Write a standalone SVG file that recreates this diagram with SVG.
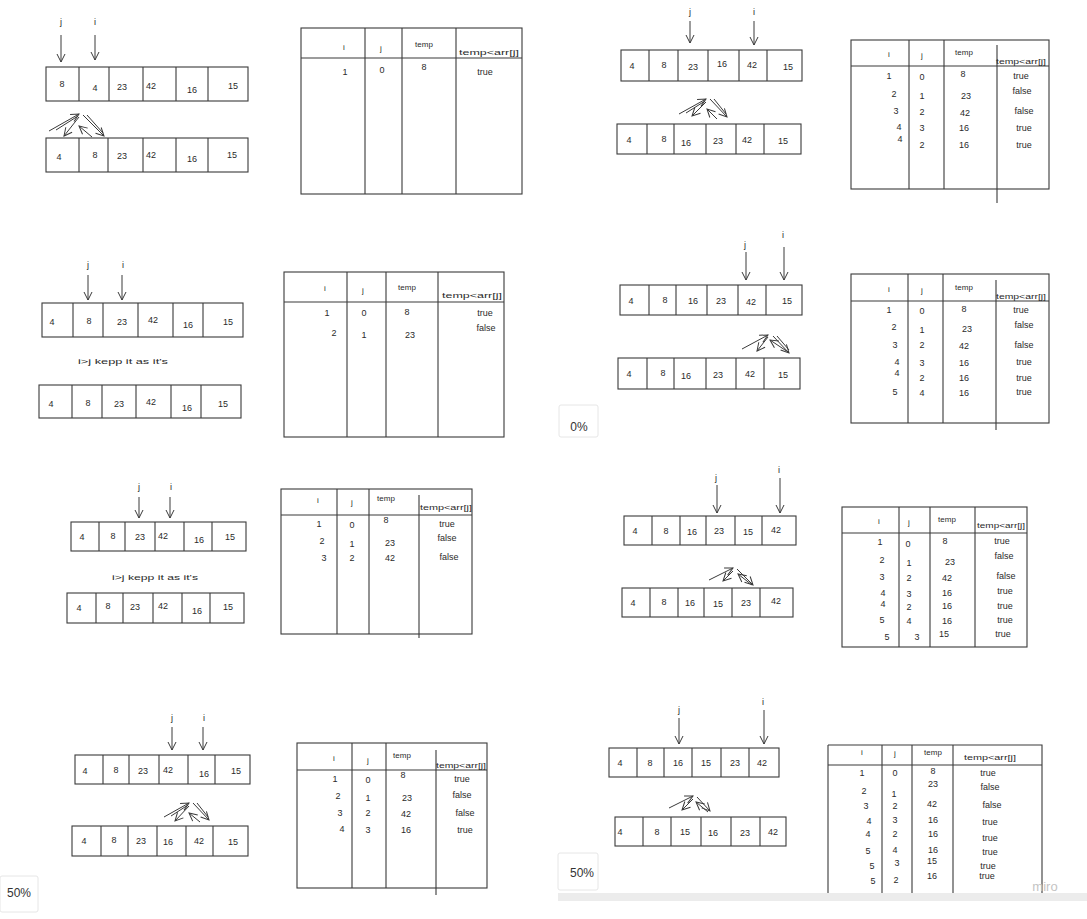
<svg xmlns="http://www.w3.org/2000/svg" width="1087" height="919" viewBox="0 0 1087 919">
<style>
.ln{stroke:#3a3a3a;stroke-width:1.1;fill:none}
.ar{stroke:#3a3a3a;stroke-width:1;fill:none;marker-end:url(#ah)}
.sl{stroke:#3a3a3a;stroke-width:1;fill:none}
.t{font-family:"Liberation Sans",Arial,sans-serif;font-size:9px;fill:#2a2a2a;text-anchor:middle}
.h{font-family:"Liberation Sans",Arial,sans-serif;font-size:8px;fill:#2a2a2a;text-anchor:middle}
.n{font-family:"Liberation Sans",Arial,sans-serif;font-size:8px;fill:#2a2a2a;text-anchor:middle}
.z{font-family:"Liberation Sans",Arial,sans-serif;font-size:12px;fill:#333;text-anchor:middle}
.box{fill:#fff;stroke:#e6e6e6;stroke-width:1}
</style>
<defs>
<marker id="ah" markerUnits="userSpaceOnUse" markerWidth="10" markerHeight="10" refX="9" refY="5" orient="auto">
<path d="M1,1 L9,5 L1,9" fill="none" stroke="#3a3a3a" stroke-width="1"/>
</marker>
</defs>
<rect x="0" y="0" width="1087" height="919" fill="#fff"/>

<!-- Panel 1 -->
<g id="p1-top">
<rect class="ln" x="46" y="67" width="202" height="34"/>
<path class="ln" d="M79,67V101M109,67V101M143,67V101M176,67V101M208,67V101"/>
<text class="t" x="62" y="87">8</text><text class="t" x="95" y="91">4</text><text class="t" x="122" y="90">23</text><text class="t" x="151" y="89">42</text><text class="t" x="192" y="93">16</text><text class="t" x="233" y="89">15</text>
</g>
<g id="p1-bottom">
<rect class="ln" x="46" y="138" width="202" height="34"/>
<path class="ln" d="M79,138V172M108,138V172M143,138V172M176,138V172M208,138V172"/>
<text class="t" x="59" y="160">4</text><text class="t" x="95" y="158">8</text><text class="t" x="122" y="159">23</text><text class="t" x="151" y="158">42</text><text class="t" x="192" y="162">16</text><text class="t" x="232" y="158">15</text>
</g>
<g id="p1-labels"><text class="t" x="61" y="25">j</text><text class="t" x="95" y="25">i</text></g>
<g id="t1">
<rect class="ln" x="301" y="28" width="221" height="166"/>
<path class="ln" d="M301,58H522M365,28V194M402,28V194M456,28V194"/>
<text class="h" x="344" y="50">i</text><text class="h" x="381" y="51">j</text><text class="h" x="424" y="47">temp</text><text class="h" x="489" y="55" textLength="60" lengthAdjust="spacingAndGlyphs">temp&lt;arr[j]</text>
<text class="t" x="345" y="75">1</text><text class="t" x="382" y="73">0</text><text class="t" x="424" y="70">8</text><text class="t" x="485" y="75">true</text>
</g>

<!-- Panel 2 -->
<g id="p2-top">
<rect class="ln" x="42" y="303" width="201" height="34"/>
<path class="ln" d="M73,303V337M103,303V337M138,303V337M173,303V337M203,303V337"/>
<text class="t" x="52" y="325">4</text><text class="t" x="89" y="324">8</text><text class="t" x="122" y="325">23</text><text class="t" x="153" y="323">42</text><text class="t" x="188" y="328">16</text><text class="t" x="228" y="325">15</text>
</g>
<g id="p2-note"><text class="n" x="123" y="364" textLength="90" lengthAdjust="spacingAndGlyphs">i&gt;j kepp it as it's</text></g>
<g id="p2-bottom">
<rect class="ln" x="39" y="385" width="202" height="33"/>
<path class="ln" d="M72,385V418M102,385V418M136,385V418M171,385V418M201,385V418"/>
<text class="t" x="51" y="407">4</text><text class="t" x="88" y="406">8</text><text class="t" x="119" y="407">23</text><text class="t" x="151" y="405">42</text><text class="t" x="187" y="411">16</text><text class="t" x="223" y="407">15</text>
</g>
<g id="p2-labels"><text class="t" x="88" y="268">j</text><text class="t" x="123" y="268">i</text></g>
<g id="t2">
<rect class="ln" x="284" y="272" width="220" height="165"/>
<path class="ln" d="M284,302H504M347,272V437M386,272V437M438,272V437"/>
<text class="h" x="325" y="291">i</text><text class="h" x="363" y="293">j</text><text class="h" x="407" y="290">temp</text><text class="h" x="472" y="298" textLength="60" lengthAdjust="spacingAndGlyphs">temp&lt;arr[j]</text>
<text class="t" x="327" y="316">1</text><text class="t" x="364" y="316">0</text><text class="t" x="407" y="315">8</text><text class="t" x="485" y="316">true</text>
<text class="t" x="334" y="336">2</text><text class="t" x="364" y="338">1</text><text class="t" x="410" y="338">23</text><text class="t" x="486" y="331">false</text>
</g>

<!-- Panel 3 -->
<g id="p3-top">
<rect class="ln" x="71" y="522" width="175" height="29"/>
<path class="ln" d="M99,522V551M125,522V551M155,522V551M184,522V551M212,522V551"/>
<text class="t" x="82" y="540">4</text><text class="t" x="113" y="539">8</text><text class="t" x="140" y="540">23</text><text class="t" x="163" y="539">42</text><text class="t" x="199" y="543">16</text><text class="t" x="230" y="540">15</text>
</g>
<g id="p3-note"><text class="n" x="155" y="580" textLength="86" lengthAdjust="spacingAndGlyphs">i&gt;j kepp it as it's</text></g>
<g id="p3-bottom">
<rect class="ln" x="67" y="593" width="177" height="30"/>
<path class="ln" d="M96,593V623M123,593V623M153,593V623M182,593V623M210,593V623"/>
<text class="t" x="79" y="611">4</text><text class="t" x="108" y="609">8</text><text class="t" x="135" y="610">23</text><text class="t" x="163" y="609">42</text><text class="t" x="197" y="614">16</text><text class="t" x="228" y="610">15</text>
</g>
<g id="p3-labels"><text class="t" x="139" y="490">j</text><text class="t" x="171" y="490">i</text></g>
<g id="t3">
<rect class="ln" x="281" y="489" width="191" height="145"/>
<path class="ln" d="M281,515H472M337,489V634M369,489V634M419,495V638"/>
<text class="h" x="318" y="503">i</text><text class="h" x="352" y="505">j</text><text class="h" x="386" y="501">temp</text><text class="h" x="446" y="510" textLength="52" lengthAdjust="spacingAndGlyphs">temp&lt;arr[j]</text>
<text class="t" x="319" y="527">1</text><text class="t" x="352" y="528">0</text><text class="t" x="386" y="523">8</text><text class="t" x="447" y="527">true</text>
<text class="t" x="322" y="544">2</text><text class="t" x="352" y="547">1</text><text class="t" x="390" y="546">23</text><text class="t" x="447" y="541">false</text>
<text class="t" x="324" y="561">3</text><text class="t" x="352" y="561">2</text><text class="t" x="390" y="561">42</text><text class="t" x="449" y="560">false</text>
</g>

<!-- Panel 4 -->
<g id="p4-top">
<rect class="ln" x="75" y="755" width="175" height="29"/>
<path class="ln" d="M103,755V784M129,755V784M159,755V784M188,755V784M215,755V784"/>
<text class="t" x="85" y="774">4</text><text class="t" x="116" y="773">8</text><text class="t" x="143" y="774">23</text><text class="t" x="168" y="773">42</text><text class="t" x="204" y="777">16</text><text class="t" x="236" y="774">15</text>
</g>
<g id="p4-bottom">
<rect class="ln" x="72" y="826" width="176" height="30"/>
<path class="ln" d="M101,826V856M128,826V856M157,826V856M186,826V856M213,826V856"/>
<text class="t" x="84" y="844">4</text><text class="t" x="114" y="843">8</text><text class="t" x="141" y="844">23</text><text class="t" x="168" y="845">16</text><text class="t" x="199" y="844">42</text><text class="t" x="233" y="845">15</text>
</g>
<g id="p4-labels"><text class="t" x="172" y="721">j</text><text class="t" x="204" y="721">i</text></g>
<g id="t4">
<rect class="ln" x="297" y="743" width="190" height="145"/>
<path class="ln" d="M297,770H487M352,743V888M386,743V888M436,750V895"/>
<text class="h" x="334" y="761">i</text><text class="h" x="368" y="763">j</text><text class="h" x="402" y="758">temp</text><text class="h" x="461" y="768" textLength="50" lengthAdjust="spacingAndGlyphs">temp&lt;arr[j]</text>
<text class="t" x="335" y="782">1</text><text class="t" x="368" y="783">0</text><text class="t" x="403" y="778">8</text><text class="t" x="462" y="782">true</text>
<text class="t" x="338" y="799">2</text><text class="t" x="368" y="801">1</text><text class="t" x="407" y="801">23</text><text class="t" x="462" y="798">false</text>
<text class="t" x="340" y="816">3</text><text class="t" x="368" y="816">2</text><text class="t" x="406" y="817">42</text><text class="t" x="465" y="816">false</text>
<text class="t" x="342" y="832">4</text><text class="t" x="368" y="833">3</text><text class="t" x="406" y="833">16</text><text class="t" x="465" y="833">true</text>
</g>

<!-- Panel 5 -->
<g id="p5-top">
<rect class="ln" x="621" y="50" width="181" height="31"/>
<path class="ln" d="M649,50V81M678,50V81M708,50V81M739,50V81M767,50V81"/>
<text class="t" x="632" y="69">4</text><text class="t" x="664" y="68">8</text><text class="t" x="693" y="70">23</text><text class="t" x="722" y="67">16</text><text class="t" x="752" y="68">42</text><text class="t" x="788" y="70">15</text>
</g>
<g id="p5-bottom">
<rect class="ln" x="617" y="124" width="184" height="30"/>
<path class="ln" d="M647,124V154M674,124V154M706,124V154M736,124V154M764,124V154"/>
<text class="t" x="629" y="143">4</text><text class="t" x="664" y="142">8</text><text class="t" x="686" y="146">16</text><text class="t" x="718" y="144">23</text><text class="t" x="747" y="143">42</text><text class="t" x="783" y="144">15</text>
</g>
<g id="p5-labels"><text class="t" x="690" y="15">j</text><text class="t" x="754" y="15">i</text></g>
<g id="t5">
<rect class="ln" x="851" y="40" width="198" height="149"/>
<path class="ln" d="M851,66H1049M909,40V189M944,40V189M997,45V203"/>
<text class="h" x="889" y="57">i</text><text class="h" x="922" y="58">j</text><text class="h" x="964" y="55">temp</text><text class="h" x="1021" y="64" textLength="50" lengthAdjust="spacingAndGlyphs">temp&lt;arr[j]</text>
<text class="t" x="889" y="79">1</text><text class="t" x="922" y="80">0</text><text class="t" x="963" y="77">8</text><text class="t" x="1021" y="79">true</text>
<text class="t" x="894" y="97">2</text><text class="t" x="922" y="99">1</text><text class="t" x="966" y="99">23</text><text class="t" x="1022" y="94">false</text>
<text class="t" x="896" y="114">3</text><text class="t" x="922" y="115">2</text><text class="t" x="965" y="116">42</text><text class="t" x="1024" y="114">false</text>
<text class="t" x="899" y="130">4</text><text class="t" x="922" y="131">3</text><text class="t" x="964" y="131">16</text><text class="t" x="1024" y="131">true</text>
<text class="t" x="900" y="142">4</text><text class="t" x="922" y="148">2</text><text class="t" x="964" y="148">16</text><text class="t" x="1024" y="148">true</text>
</g>

<!-- Panel 6 -->
<g id="p6-top">
<rect class="ln" x="620" y="285" width="182" height="30"/>
<path class="ln" d="M649,285V315M676,285V315M707,285V315M738,285V315M766,285V315"/>
<text class="t" x="631" y="304">4</text><text class="t" x="665" y="303">8</text><text class="t" x="693" y="304">16</text><text class="t" x="721" y="304">23</text><text class="t" x="751" y="305">42</text><text class="t" x="787" y="304">15</text>
</g>
<g id="p6-bottom">
<rect class="ln" x="618" y="358" width="182" height="31"/>
<path class="ln" d="M647,358V389M674,358V389M706,358V389M736,358V389M764,358V389"/>
<text class="t" x="629" y="377">4</text><text class="t" x="663" y="376">8</text><text class="t" x="686" y="379">16</text><text class="t" x="718" y="378">23</text><text class="t" x="750" y="377">42</text><text class="t" x="783" y="378">15</text>
</g>
<g id="p6-labels"><text class="t" x="745" y="248">j</text><text class="t" x="783" y="238">i</text></g>
<g id="t6">
<rect class="ln" x="851" y="274" width="198" height="149"/>
<path class="ln" d="M851,301H1049M908,274V423M943,274V423M996,280V430"/>
<text class="h" x="889" y="292">i</text><text class="h" x="922" y="293">j</text><text class="h" x="964" y="290">temp</text><text class="h" x="1021" y="299" textLength="50" lengthAdjust="spacingAndGlyphs">temp&lt;arr[j]</text>
<text class="t" x="889" y="313">1</text><text class="t" x="922" y="314">0</text><text class="t" x="964" y="312">8</text><text class="t" x="1021" y="313">true</text>
<text class="t" x="894" y="330">2</text><text class="t" x="922" y="333">1</text><text class="t" x="967" y="332">23</text><text class="t" x="1024" y="328">false</text>
<text class="t" x="895" y="348">3</text><text class="t" x="922" y="348">2</text><text class="t" x="964" y="349">42</text><text class="t" x="1024" y="348">false</text>
<text class="t" x="897" y="365">4</text><text class="t" x="922" y="366">3</text><text class="t" x="964" y="366">16</text><text class="t" x="1024" y="365">true</text>
<text class="t" x="897" y="376">4</text><text class="t" x="922" y="381">2</text><text class="t" x="964" y="381">16</text><text class="t" x="1024" y="381">true</text>
<text class="t" x="895" y="395">5</text><text class="t" x="922" y="396">4</text><text class="t" x="964" y="396">16</text><text class="t" x="1024" y="395">true</text>
</g>

<!-- Panel 7 -->
<g id="p7-top">
<rect class="ln" x="624" y="516" width="172" height="29"/>
<path class="ln" d="M652,516V545M680,516V545M706,516V545M735,516V545M762,516V545"/>
<text class="t" x="635" y="534">4</text><text class="t" x="666" y="534">8</text><text class="t" x="692" y="535">16</text><text class="t" x="719" y="534">23</text><text class="t" x="748" y="535">15</text><text class="t" x="776" y="533">42</text>
</g>
<g id="p7-bottom">
<rect class="ln" x="622" y="588" width="171" height="29"/>
<path class="ln" d="M650,588V617M678,588V617M704,588V617M732,588V617M760,588V617"/>
<text class="t" x="633" y="606">4</text><text class="t" x="664" y="605">8</text><text class="t" x="690" y="606">16</text><text class="t" x="718" y="607">15</text><text class="t" x="746" y="606">23</text><text class="t" x="776" y="604">42</text>
</g>
<g id="p7-labels"><text class="t" x="716" y="481">j</text><text class="t" x="779" y="473">i</text></g>
<g id="t7">
<rect class="ln" x="842" y="507" width="185" height="140"/>
<path class="ln" d="M842,533H1027M899,507V647M930,507V647M975,507V647"/>
<text class="h" x="879" y="524">i</text><text class="h" x="909" y="525">j</text><text class="h" x="947" y="522">temp</text><text class="h" x="1001" y="528" textLength="48" lengthAdjust="spacingAndGlyphs">temp&lt;arr[j]</text>
<text class="t" x="880" y="545">1</text><text class="t" x="908" y="547">0</text><text class="t" x="945" y="544">8</text><text class="t" x="1002" y="544">true</text>
<text class="t" x="882" y="563">2</text><text class="t" x="909" y="566">1</text><text class="t" x="950" y="565">23</text><text class="t" x="1004" y="559">false</text>
<text class="t" x="882" y="580">3</text><text class="t" x="909" y="581">2</text><text class="t" x="947" y="581">42</text><text class="t" x="1006" y="579">false</text>
<text class="t" x="883" y="596">4</text><text class="t" x="909" y="597">3</text><text class="t" x="947" y="596">16</text><text class="t" x="1005" y="594">true</text>
<text class="t" x="883" y="607">4</text><text class="t" x="909" y="610">2</text><text class="t" x="947" y="609">16</text><text class="t" x="1005" y="609">true</text>
<text class="t" x="882" y="623">5</text><text class="t" x="909" y="624">4</text><text class="t" x="947" y="624">16</text><text class="t" x="1005" y="623">true</text>
<text class="t" x="887" y="640">5</text><text class="t" x="917" y="640">3</text><text class="t" x="944" y="637">15</text><text class="t" x="1003" y="637">true</text>
</g>

<!-- Panel 8 -->
<g id="p8-top">
<rect class="ln" x="609" y="748" width="170" height="29"/>
<path class="ln" d="M637,748V777M664,748V777M692,748V777M721,748V777M749,748V777"/>
<text class="t" x="620" y="766">4</text><text class="t" x="650" y="766">8</text><text class="t" x="678" y="766">16</text><text class="t" x="706" y="766">15</text><text class="t" x="735" y="766">23</text><text class="t" x="762" y="766">42</text>
</g>
<g id="p8-bottom">
<rect class="ln" x="615" y="817" width="171" height="29"/>
<path class="ln" d="M643,817V846M671,817V846M701,817V846M731,817V846M760,817V846"/>
<text class="t" x="620" y="835">4</text><text class="t" x="657" y="835">8</text><text class="t" x="685" y="835">15</text><text class="t" x="713" y="836">16</text><text class="t" x="745" y="836">23</text><text class="t" x="773" y="835">42</text>
</g>
<g id="p8-labels"><text class="t" x="679" y="713">j</text><text class="t" x="763" y="705">i</text></g>
<g id="t8">
<path class="ln" d="M828,745H1042V893M828,745V893M828,765H1042M882,745V893M912,745V893M953,745V893"/>
<text class="h" x="862" y="755">i</text><text class="h" x="895" y="756">j</text><text class="h" x="933" y="755">temp</text><text class="h" x="990" y="760" textLength="52" lengthAdjust="spacingAndGlyphs">temp&lt;arr[j]</text>
<text class="t" x="862" y="776">1</text><text class="t" x="895" y="776">0</text><text class="t" x="933" y="774">8</text><text class="t" x="988" y="776">true</text>
<text class="t" x="933" y="787">23</text>
<text class="t" x="864" y="794">2</text><text class="t" x="894" y="797">1</text><text class="t" x="990" y="790">false</text>
<text class="t" x="866" y="809">3</text><text class="t" x="895" y="809">2</text><text class="t" x="932" y="807">42</text><text class="t" x="992" y="808">false</text>
<text class="t" x="869" y="824">4</text><text class="t" x="895" y="823">3</text><text class="t" x="933" y="823">16</text><text class="t" x="990" y="825">true</text>
<text class="t" x="868" y="837">4</text><text class="t" x="895" y="837">2</text><text class="t" x="933" y="837">16</text><text class="t" x="990" y="841">true</text>
<text class="t" x="868" y="854">5</text><text class="t" x="895" y="853">4</text><text class="t" x="933" y="853">16</text><text class="t" x="990" y="855">true</text>
<text class="t" x="872" y="869">5</text><text class="t" x="897" y="866">3</text><text class="t" x="932" y="864">15</text><text class="t" x="988" y="869">true</text>
<text class="t" x="873" y="884">5</text><text class="t" x="896" y="883">2</text><text class="t" x="932" y="879">16</text><text class="t" x="987" y="879">true</text>
</g>

<!-- Connectors -->
<g id="connectors">
<path class="ar" d="M61,35V62"/><path class="ar" d="M95,35V60"/>
<path class="ar" d="M49,131L79,114"/><path class="sl" d="M56,130L78,116"/><path class="ar" d="M79,117L64,136"/><path class="ar" d="M92,137L79,126"/><path class="ar" d="M83,115L104,136"/><path class="sl" d="M87,115L103,133"/>
<path class="ar" d="M88,275V300"/><path class="ar" d="M122,275V300"/>
<path class="ar" d="M139,497V518"/><path class="ar" d="M170,497V518"/>
<path class="ar" d="M172,727V750"/><path class="ar" d="M203,727V750"/>
<path class="ar" d="M164,817L189,803"/><path class="sl" d="M171,816L188,805"/><path class="ar" d="M189,806L175,821"/><path class="ar" d="M200,822L189,813"/><path class="ar" d="M193,803L209,820"/><path class="sl" d="M197,803L208,817"/>
<path class="ar" d="M690,21V43"/><path class="ar" d="M754,21V45"/>
<path class="ar" d="M679,114L706,99"/><path class="sl" d="M686,113L705,101"/><path class="ar" d="M706,102L692,116"/><path class="ar" d="M717,119L707,109"/><path class="ar" d="M710,99L727,117"/><path class="sl" d="M714,99L726,114"/>
<path class="ar" d="M746,252V280"/><path class="ar" d="M784,247V280"/>
<path class="ar" d="M742,349L768,335"/><path class="ar" d="M768,337L757,351"/><path class="ar" d="M788,352L770,340"/><path class="ar" d="M773,336L789,353"/><path class="sl" d="M777,336L789,350"/>
<path class="ar" d="M717,485V513"/><path class="ar" d="M780,478V513"/>
<path class="ar" d="M709,580L733,568"/><path class="ar" d="M733,571L723,581"/><path class="ar" d="M752,585L738,574"/><path class="ar" d="M737,569L753,585"/>
<path class="ar" d="M679,718V744"/><path class="ar" d="M764,710V744"/>
<path class="ar" d="M669,808L693,796"/><path class="ar" d="M693,799L682,810"/><path class="ar" d="M708,812L696,802"/><path class="ar" d="M697,797L710,811"/>
</g>

<!-- Zoom badges and footer -->
<g id="badge-0"><rect class="box" x="559" y="405" width="39" height="32" rx="2"/><text class="z" x="579" y="431">0%</text></g>
<g id="badge-50a"><rect class="box" x="0" y="876" width="38" height="36" rx="2"/><text class="z" x="19" y="897">50%</text></g>
<g id="badge-50b"><rect class="box" x="558" y="853" width="40" height="37" rx="2"/><text class="z" x="582" y="877">50%</text></g>
<rect x="558" y="893" width="529" height="8" fill="#ececec"/>
<text x="1045" y="891" font-family="'Liberation Sans',Arial,sans-serif" font-size="13" fill="#c4c4c4" text-anchor="middle">miro</text>
</svg>
